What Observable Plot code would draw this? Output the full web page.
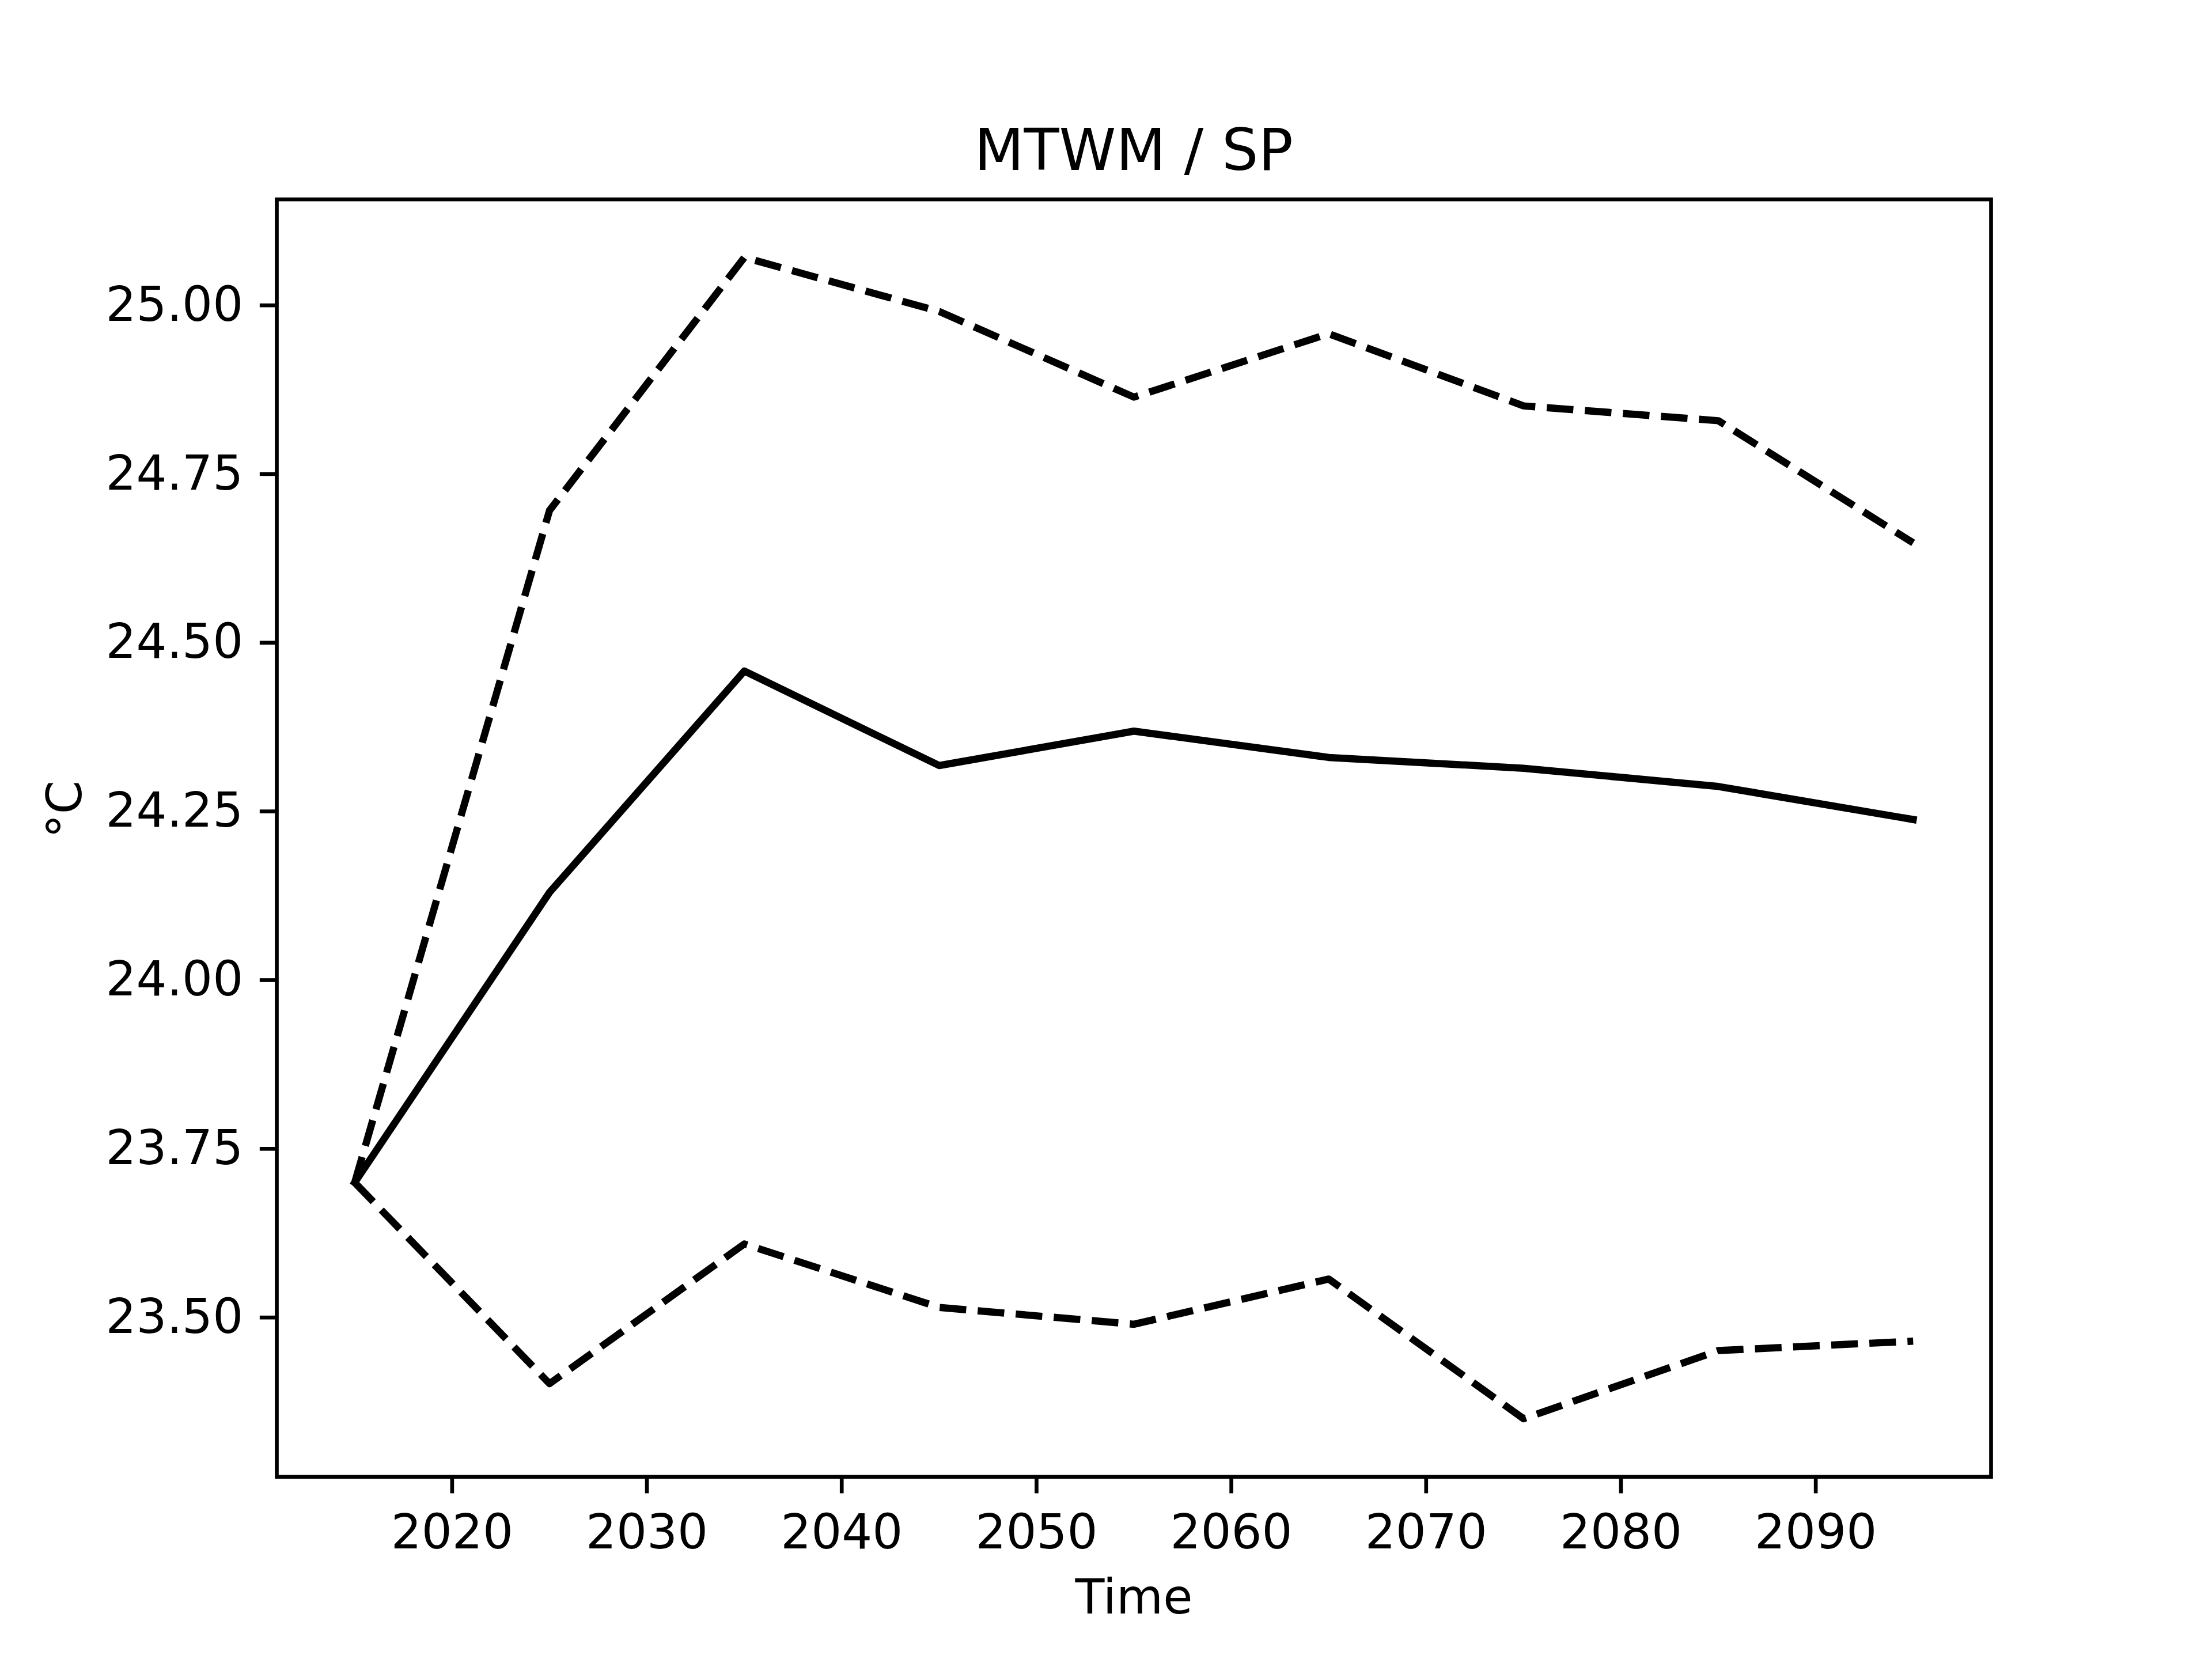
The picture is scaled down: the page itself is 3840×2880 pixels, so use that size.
<!DOCTYPE html>
<html>
<head>
<meta charset="utf-8">
<script src="https://cdn.jsdelivr.net/npm/d3@7"></script>
<script src="https://cdn.jsdelivr.net/npm/@observablehq/plot@0.6"></script>
<style>
  html, body { margin: 0; padding: 0; background: #ffffff; }
  #wrap { width: 3840px; height: 2880px; position: relative; background: #ffffff; }
  #title {
    box-sizing: border-box;
    height: 320px;
    margin-left: 480px;
    width: 2976px;
    padding-top: 211.4px;
    font-family: "DejaVu Sans", sans-serif;
    font-size: 100px;
    line-height: 100px;
    text-align: center;
    color: #000000;
    white-space: nowrap;
  }
  svg { display: block; }
</style>
</head>
<body>
<div id="wrap">
  <div id="title">MTWM / SP</div>
  <div id="chart"></div>
</div>
<script>
// ---- data ----
const years = [2015, 2025, 2035, 2045, 2055, 2065, 2075, 2085, 2095];
const meanVals  = [23.700, 24.130, 24.458, 24.318, 24.369, 24.330, 24.314, 24.287, 24.238];
const upperVals = [23.700, 24.696, 25.071, 24.991, 24.864, 24.958, 24.851, 24.829, 24.648];
const lowerVals = [23.700, 23.402, 23.609, 23.515, 23.490, 23.557, 23.350, 23.451, 23.465];
const xTicks = [2020, 2030, 2040, 2050, 2060, 2070, 2080, 2090];
const yTicks = [23.50, 23.75, 24.00, 24.25, 24.50, 24.75, 25.00];
const titleText = "MTWM / SP";
const xLabel = "Time";
const yLabel = "°C";

// ---- build table ----
const meanRows  = years.map((t, i) => ({t, v: meanVals[i]}));
const upperRows = years.map((t, i) => ({t, v: upperVals[i]}));
const lowerRows = years.map((t, i) => ({t, v: lowerVals[i]}));

// matplotlib-like 5% autoscale margins
const allV = meanVals.concat(upperVals, lowerVals);
const vMin = d3.min(allV), vMax = d3.max(allV);
const vPad = (vMax - vMin) * 0.05;
const tMin = d3.min(years), tMax = d3.max(years);
const tPad = (tMax - tMin) * 0.05;

const PX = 600 / 72; // points -> px at 600 dpi
const W = 3840, H = 2560;
const lw = 1.5 * PX;
const dash = `${3.7 * 1.5 * PX},${1.6 * 1.5 * PX}`;
const fs = 10 * PX;

document.getElementById("title").textContent = titleText;

const chart = Plot.plot({
  width: W,
  height: H,
  marginLeft: 480,
  marginRight: 384,
  marginTop: 25.6,
  marginBottom: 316.8,
  style: {fontFamily: "DejaVu Sans", fontSize: `${fs}px`, background: "#ffffff", color: "#000000"},
  x: {domain: [tMin - tPad, tMax + tPad]},
  y: {domain: [vMin - vPad, vMax + vPad]},
  marks: [
    Plot.line(upperRows, {x: "t", y: "v", stroke: "#000000", strokeWidth: lw, strokeDasharray: dash, strokeLinecap: "butt", strokeLinejoin: "round"}),
    Plot.line(lowerRows, {x: "t", y: "v", stroke: "#000000", strokeWidth: lw, strokeDasharray: dash, strokeLinecap: "butt", strokeLinejoin: "round"}),
    Plot.line(meanRows,  {x: "t", y: "v", stroke: "#000000", strokeWidth: lw, strokeLinecap: "square", strokeLinejoin: "round"}),
    Plot.axisX({ticks: xTicks, tickFormat: d => String(d), tickSize: 3.5 * PX, tickPadding: 36, strokeWidth: 0.8 * PX, fontSize: fs, label: null, fill: "#000000"}),
    Plot.axisY({ticks: yTicks, tickFormat: d3.format(".2f"), tickSize: 3.5 * PX, tickPadding: 3.5 * PX, strokeWidth: 0.8 * PX, fontSize: fs, label: null, fill: "#000000"}),
    Plot.text([xLabel], {text: d => d, frameAnchor: "bottom", lineAnchor: "bottom", dy: 236.8, fontSize: fs, fill: "#000000"}),
    Plot.text([yLabel], {text: d => d, frameAnchor: "left", lineAnchor: "middle", rotate: -90, dx: -366, fontSize: fs, fill: "#000000"}),
    Plot.frame({stroke: "#000000", strokeWidth: 0.8 * PX})
  ]
});
document.getElementById("chart").appendChild(chart);
</script>
</body>
</html>
